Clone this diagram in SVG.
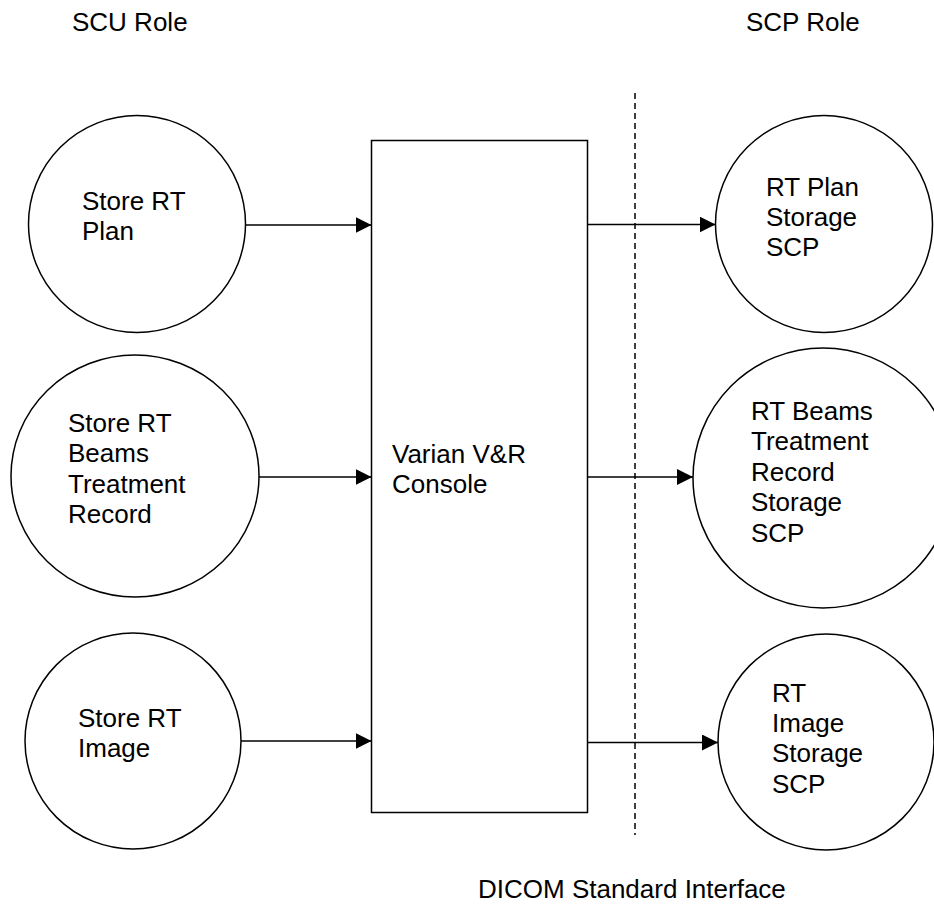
<svg xmlns="http://www.w3.org/2000/svg" width="934" height="905" viewBox="0 0 934 905">
<style>
text{font-family:"Liberation Sans",Arial,sans-serif;font-size:26px;fill:#000}
.shape{fill:#fff;stroke:#000;stroke-width:1.5}
.conn{stroke:#000;stroke-width:1.5;fill:none}
.dash{stroke:#000;stroke-width:1.5;stroke-dasharray:6 4;fill:none}
</style>
<defs>
<marker id="arr" markerUnits="userSpaceOnUse" markerWidth="16" markerHeight="16" refX="16" refY="8" orient="auto">
<path d="M0,0 L16,8 L0,16 z" fill="#000"/>
</marker>
</defs>
<rect width="934" height="905" fill="#fff"/>
<text x="72" y="31">SCU Role</text>
<text x="746" y="31">SCP Role</text>
<g id="store-rt-plan">
<circle class="shape" cx="137" cy="224" r="108.5"/>
<text x="82" y="210">Store RT</text>
<text x="82" y="240">Plan</text>
</g>
<g id="store-rt-beams">
<ellipse class="shape" cx="135" cy="476" rx="124" ry="121"/>
<text x="68" y="432">Store RT</text>
<text x="68" y="462">Beams</text>
<text x="68" y="493">Treatment</text>
<text x="68" y="523">Record</text>
</g>
<g id="store-rt-image">
<circle class="shape" cx="133" cy="741" r="108"/>
<text x="78" y="727">Store RT</text>
<text x="78" y="757">Image</text>
</g>
<g id="console">
<rect class="shape" x="371.5" y="140.5" width="216" height="672"/>
<text x="392" y="463">Varian V&amp;R</text>
<text x="392" y="493">Console</text>
</g>
<g id="rt-plan-scp">
<circle class="shape" cx="824" cy="224" r="108.5"/>
<text x="766" y="196">RT Plan</text>
<text x="766" y="226">Storage</text>
<text x="766" y="256">SCP</text>
</g>
<g id="rt-beams-scp">
<circle class="shape" cx="823" cy="478" r="130"/>
<text x="751" y="420">RT Beams</text>
<text x="751" y="450">Treatment</text>
<text x="751" y="481">Record</text>
<text x="751" y="511">Storage</text>
<text x="751" y="542">SCP</text>
</g>
<g id="rt-image-scp">
<circle class="shape" cx="826" cy="742" r="108"/>
<text x="772" y="702">RT</text>
<text x="772" y="732">Image</text>
<text x="772" y="762">Storage</text>
<text x="772" y="793">SCP</text>
</g>
<g id="connectors">
<line class="dash" x1="635" y1="93" x2="635" y2="835"/>
<line class="conn" x1="245.5" y1="225" x2="371.5" y2="225" marker-end="url(#arr)"/>
<line class="conn" x1="259" y1="477" x2="371.5" y2="477" marker-end="url(#arr)"/>
<line class="conn" x1="241" y1="741" x2="371.5" y2="741" marker-end="url(#arr)"/>
<line class="conn" x1="587.5" y1="224.5" x2="715.5" y2="224.5" marker-end="url(#arr)"/>
<line class="conn" x1="587.5" y1="477" x2="693" y2="477" marker-end="url(#arr)"/>
<line class="conn" x1="587.5" y1="742.5" x2="718" y2="742.5" marker-end="url(#arr)"/>
</g>
<text x="478" y="898">DICOM Standard Interface</text>
</svg>
